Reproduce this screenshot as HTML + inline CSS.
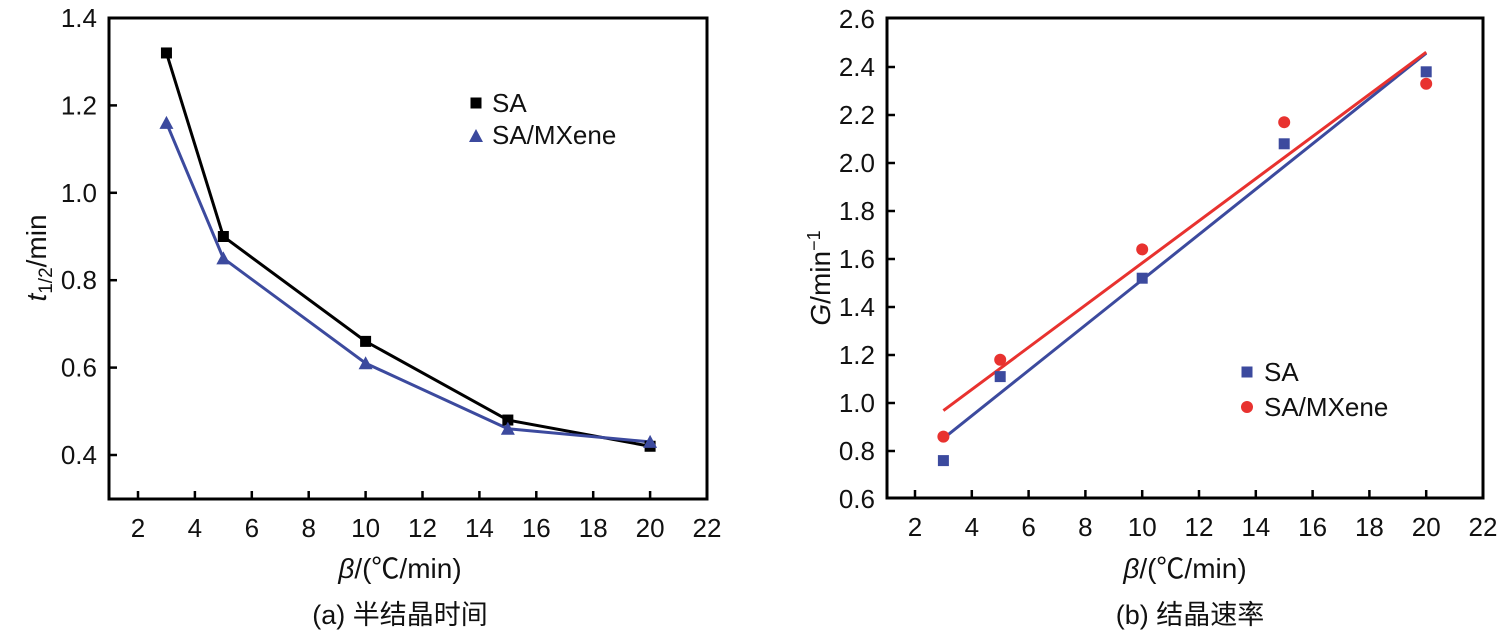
<!DOCTYPE html>
<html><head><meta charset="utf-8"><style>
body{margin:0;background:#fff;}
svg{display:block;font-family:"Liberation Sans","Noto Sans CJK SC",sans-serif;}
</style></head><body>
<svg id="c" width="1506" height="638" xmlns="http://www.w3.org/2000/svg"></svg>
<script>
const xTicks=[2,4,6,8,10,12,14,16,18,20,22];
const xVals=[3,5,10,15,20];
const aTicks=[0.4,0.6,0.8,1.0,1.2,1.4];
const aSA=[1.32,0.90,0.66,0.48,0.42];
const aMX=[1.16,0.85,0.61,0.46,0.43];
const bTicks=[0.6,0.8,1.0,1.2,1.4,1.6,1.8,2.0,2.2,2.4,2.6];
const bSA=[0.76,1.11,1.52,2.08,2.38];
const bMX=[0.86,1.18,1.64,2.17,2.33];
const NS="http://www.w3.org/2000/svg";
const svg=document.getElementById('c');
function mk(t,a,p){const e=document.createElementNS(NS,t);for(const k in a)e.setAttribute(k,a[k]);(p||svg).appendChild(e);return e;}
function txt(s,x,y,sz,anchor,p){const e=mk('text',{x:x,y:y,'font-size':sz,'text-anchor':anchor||'middle',fill:'#111'},p);e.textContent=s;return e;}
// x2: pixel of x=2 ; R: pixel of x=22 (= right edge); yTop: pixel of top tick value; yBot: pixel of bottom tick value
function panel(id,L,x2,R,T,B,xs,ys,v0,pv0,v1,pv1){
  const g=mk('g',{});
  
  
  const X=v=>x2+(v-2)*(R-x2)/20;
  const Y=v=>pv0+(v-v0)*(pv1-pv0)/(v1-v0);
  const box=mk('rect',{x:L,y:T,width:R-L,height:B-T,fill:'none',stroke:'#000','stroke-width':3},g);
  
  xs.forEach(v=>{if(X(v)<R-2)mk('line',{x1:X(v),x2:X(v),y1:B,y2:B-8,stroke:'#000','stroke-width':2.5},g);
    const t=txt(String(v),X(v),B+38,26,'middle',g);});
  ys.forEach(v=>{if(Y(v)>T+2&&Y(v)<B-2)mk('line',{x1:L,x2:L+8,y1:Y(v),y2:Y(v),stroke:'#000','stroke-width':2.5},g);
    const t=txt(v.toFixed(1),L-12,Y(v)+9,26,'end',g);});
  return {g,X,Y};
}
function sq(p,x,y,c,s){const r=mk('rect',{x:x-s/2,y:y-s/2,width:s,height:s,fill:c},p.g);}
function tri(p,x,y,c){const r=mk('polygon',{points:`${x},${y-7} ${x-7},${y+6} ${x+7},${y+6}`,fill:c},p.g);}
function circ(p,x,y,c){const r=mk('circle',{cx:x,cy:y,r:6,fill:c},p.g);}
// panel a
const A=panel('chart-a',109,138,707,18,499,xTicks,aTicks,0.4,455,1.4,18);
const lsa=mk('polyline',{points:xVals.map((x,i)=>A.X(x)+','+A.Y(aSA[i])).join(' '),fill:'none',stroke:'#000','stroke-width':3},A.g);

const lmx=mk('polyline',{points:xVals.map((x,i)=>A.X(x)+','+A.Y(aMX[i])).join(' '),fill:'none',stroke:'#3c4a9e','stroke-width':3},A.g);

xVals.forEach((x,i)=>{sq(A,A.X(x),A.Y(aSA[i]),'#000',11);tri(A,A.X(x),A.Y(aMX[i]),'#3c4a9e');});
sq(A,476,103,'#000',11);tri(A,476,136,'#3c4a9e');
let t=txt('SA',492,112,26,'start');
t=txt('SA/MXene',492,144,26,'start');
t=mk('text',{x:0,y:0,'font-size':28,'text-anchor':'middle',transform:'translate(46,258) rotate(-90)',fill:'#111'});
t.innerHTML='<tspan font-style="italic">t</tspan><tspan font-size="19" dy="6">1/2</tspan><tspan dy="-6">/min</tspan>';

t=mk('text',{x:400,y:578,'font-size':28,'text-anchor':'middle',fill:'#111'});
t.innerHTML='<tspan font-style="italic">β</tspan>/(℃/min)';
t=txt('(a) 半结晶时间',400,624,27);
// panel b
const B=panel('chart-b',887,915,1483,18,498,xTicks,bTicks,0.6,499,2.6,19);
function fit(xs,ys){const n=xs.length,mx=xs.reduce((a,b)=>a+b)/n,my=ys.reduce((a,b)=>a+b)/n;let sxy=0,sxx=0;xs.forEach((x,i)=>{sxy+=(x-mx)*(ys[i]-my);sxx+=(x-mx)**2;});const s=sxy/sxx;return x=>my+s*(x-mx);}
const fSA=fit(xVals,bSA),fMX=fit(xVals,bMX);
let l=mk('line',{x1:B.X(3),y1:B.Y(fSA(3)),x2:B.X(20),y2:B.Y(fSA(20)),stroke:'#3c4a9e','stroke-width':3},B.g);

l=mk('line',{x1:B.X(3),y1:B.Y(fMX(3)),x2:B.X(20),y2:B.Y(fMX(20)),stroke:'#e8322f','stroke-width':3},B.g);

xVals.forEach((x,i)=>{sq(B,B.X(x),B.Y(bSA[i]),'#3c4a9e',11);circ(B,B.X(x),B.Y(bMX[i]),'#e8322f');});
sq(B,1247,372,'#3c4a9e',11);circ(B,1247,407,'#e8322f');
t=txt('SA',1264,381,26,'start');
t=txt('SA/MXene',1264,416,26,'start');
t=mk('text',{x:0,y:0,'font-size':28,'text-anchor':'middle',transform:'translate(830,278) rotate(-90)',fill:'#111'});
t.innerHTML='<tspan font-style="italic">G</tspan>/min<tspan font-size="18" dy="-10">−1</tspan>';

t=mk('text',{x:1185,y:578,'font-size':28,'text-anchor':'middle',fill:'#111'});
t.innerHTML='<tspan font-style="italic">β</tspan>/(℃/min)';
t=txt('(b) 结晶速率',1190,624,27);
</script>
</body></html>
